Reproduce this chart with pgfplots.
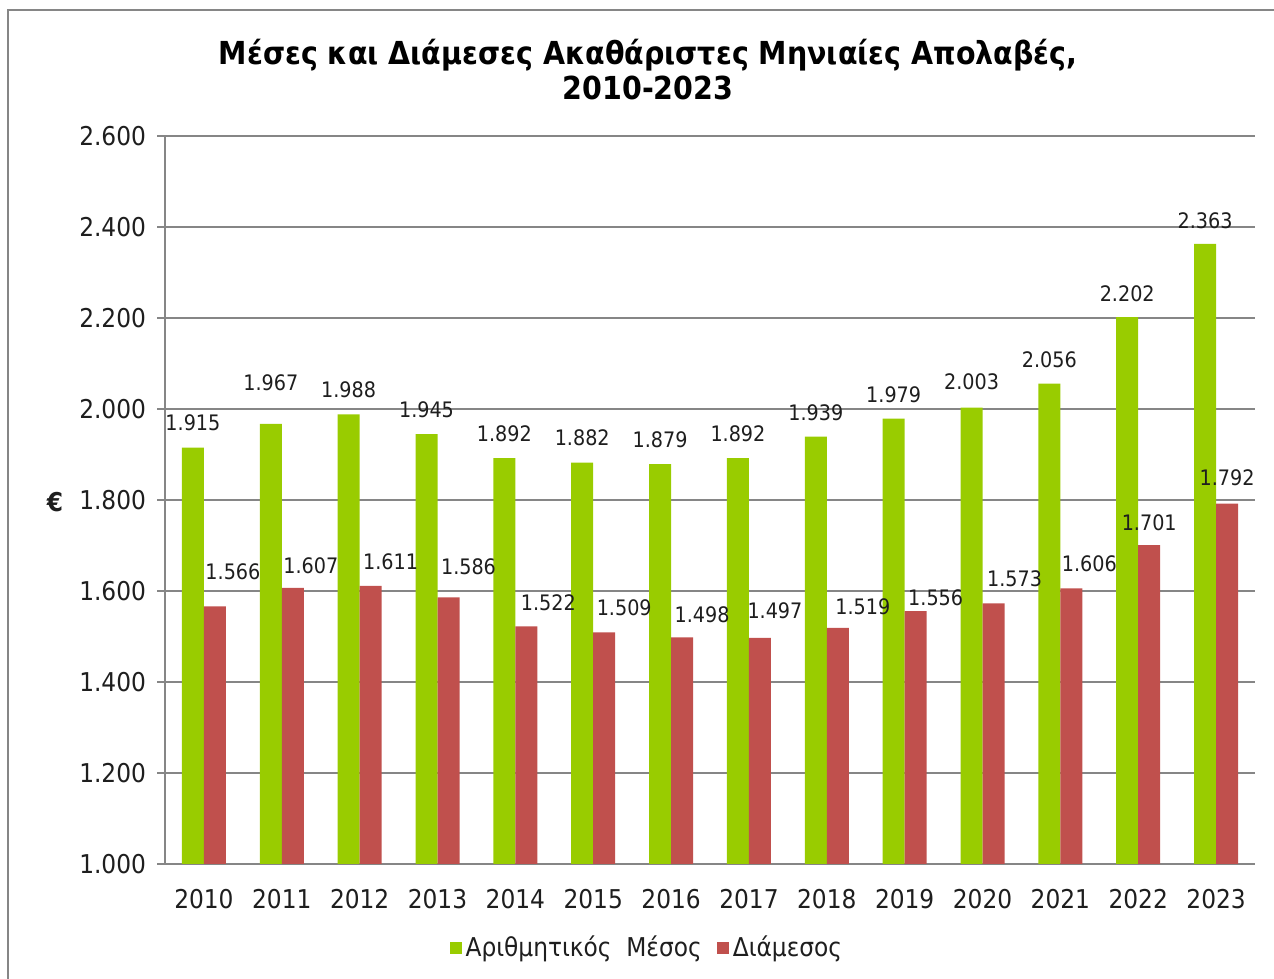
\documentclass[border=0pt]{standalone}
\usepackage{fontspec}
\setmainfont{DejaVu Sans Condensed}[BoldFont={DejaVu Sans Condensed Bold}]
\usepackage{pgfplots}
\pgfplotsset{compat=1.18}
\usepackage{pgfplotstable}
\definecolor{cgreen}{RGB}{153,204,0}
\definecolor{cred}{RGB}{192,80,77}
\definecolor{cgrid}{RGB}{134,134,134}
\definecolor{ctext}{RGB}{30,30,30}

\pgfplotstableread{
x g r gdy rdx rdy
0 1915 1566 8 9 13
1 1967 1607 16.5 9 7
2 1988 1611 8 10 8
3 1945 1586 8 10 11
4 1892 1522 8 11 7.5
5 1882 1509 8 10 8
6 1879 1498 8 10 7
7 1892 1497 8 7.5 9.5
8 1939 1519 8 12.5 6.5
9 1979 1556 7.5 10 2.5
10 2003 1573 8.5 10.5 8
11 2056 1606 7.5 9 8
12 2202 1701 7.5 0 7
13 2363 1792 7.5 0 8.5
}\datatab

\begin{document}
\begin{tikzpicture}[x=1bp,y=1bp]
\path[use as bounding box] (0,0) rectangle (637,489.5);
\draw[cgrid, line width=0.8bp] (4,0) -- (4,484.5) -- (637,484.5);
\node[font=\bfseries\fontsize{15.9}{17.5}\selectfont, align=center, text=black, anchor=center] at (324,454.5) {Μέσες και Διάμεσες Ακαθάριστες Μηνιαίες Απολαβές,\\2010-2023};
\begin{axis}[
  at={(82.5bp,57.5bp)}, anchor=south west,
  scale only axis, width=545bp, height=364bp,
  ymin=1000, ymax=2600, ytick={1000,1200,1400,1600,1800,2000,2200,2400,2600},
  xmin=-0.5, xmax=13.5, xtick={0,1,2,3,4,5,6,7,8,9,10,11,12,13},
  xticklabels={2010,2011,2012,2013,2014,2015,2016,2017,2018,2019,2020,2021,2022,2023},
  ybar=0pt, bar width=11bp,
  axis x line=bottom, axis y line=left,
  axis line style={-, cgrid, line width=0.8bp},
  ymajorgrids, grid style={cgrid, line width=0.7bp},
  tick align=outside, major tick length=4bp,
  xtick style={draw=none}, ytick style={cgrid, line width=0.8bp},
  /pgf/number format/.cd, 1000 sep={.}, assume math mode=true, /pgfplots/.cd,
  ticklabel style={font=\fontsize{13}{15}\selectfont, text=ctext},
  xticklabel style={yshift=-5bp},
  yticklabel style={xshift=-2bp},
  ylabel={\textbf{€}},
  ylabel style={at={(axis description cs:-0.101,0.497)}, rotate=-90, anchor=center, font=\fontsize{13}{15}\selectfont, text=ctext},
  legend style={at={(0.443,-0.115)}, anchor=center, draw=none, fill=none,
    legend columns=-1, font=\fontsize{13}{15}\selectfont, text=ctext,
    /tikz/every even column/.append style={column sep=5.5bp}},
  legend image code/.code={\fill[#1, draw=none] (0bp,-3bp) rectangle (6bp,3bp);},
  every node near coord/.append style={font=\fontsize{10.7}{12}\selectfont, text=ctext, anchor=south, inner sep=0pt},
]
\addplot[fill=cgreen, draw=none, nodes near coords,
  visualization depends on={\thisrow{gdy} \as \dy},
  every node near coord/.append style={yshift=\dy bp}]
  table[x=x, y=g] {\datatab};
\addplot[fill=cred, draw=none, nodes near coords,
  visualization depends on={\thisrow{rdx} \as \dx},
  visualization depends on={\thisrow{rdy} \as \dy},
  every node near coord/.append style={xshift=\dx bp, yshift=\dy bp}]
  table[x=x, y=r] {\datatab};
\legend{Αριθμητικός\ \ Μέσος, Διάμεσος}
\end{axis}
\end{tikzpicture}
\end{document}
